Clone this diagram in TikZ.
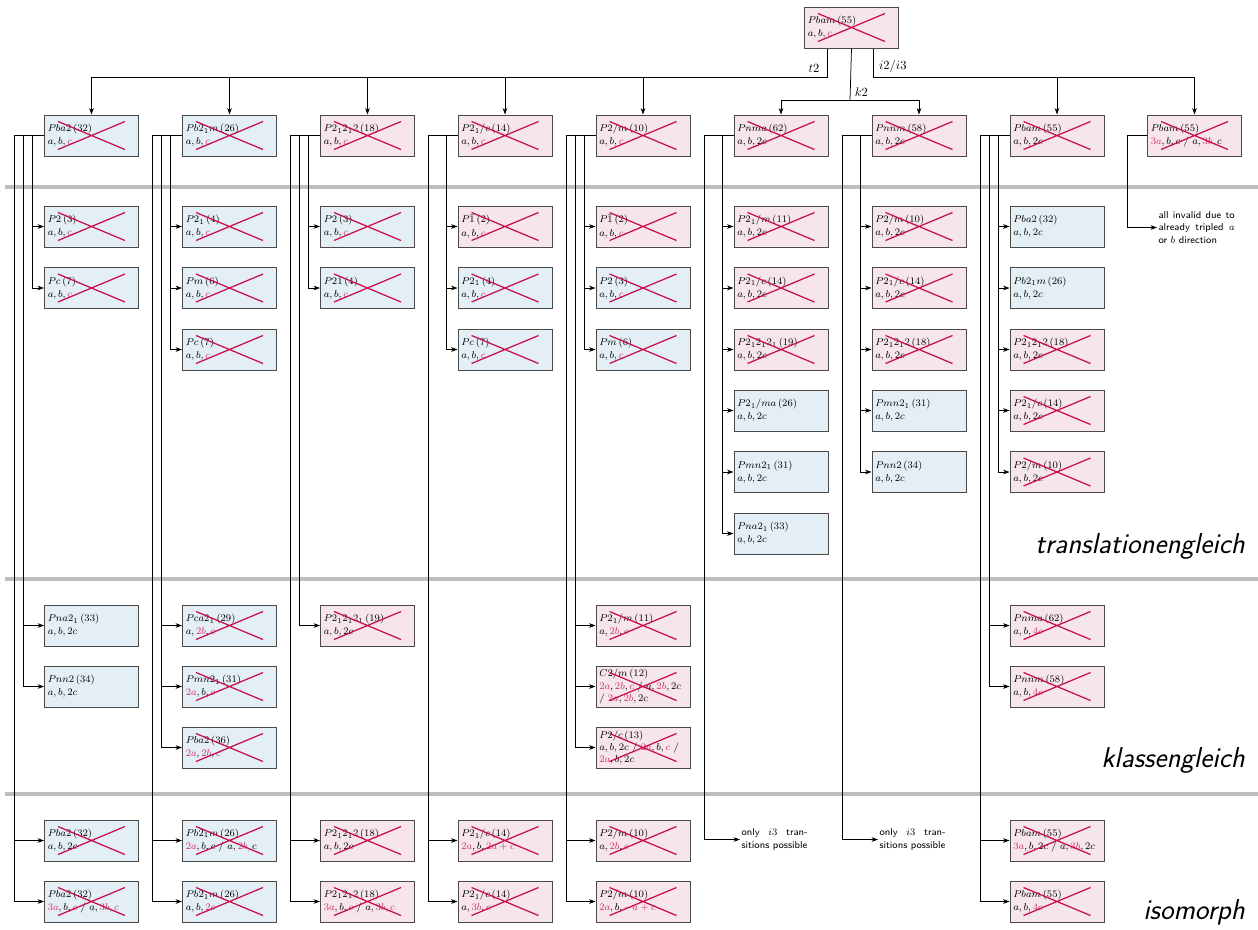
\documentclass[tikz,border=0pt]{standalone}
\usepackage{xcolor}
\definecolor{ncsfill}{HTML}{E3EEF5}
\definecolor{csfill}{HTML}{F6E5EC}
\definecolor{boxline}{HTML}{4A4A4A}
\definecolor{crossred}{HTML}{C80F4B}
\definecolor{badred}{HTML}{D2336B}
\definecolor{sepgray}{HTML}{BEBEBE}
\usepackage{tikz}
\usetikzlibrary{arrows.meta, calc}

\newcommand{\bad}[1]{\textcolor{badred}{#1}}
\newcommand{\sg}[3]{$#1\,(#2)$\\$#3$}
\newcommand{\crossbox}[1]{%
  \draw[crossline] ([shift={(-33.5,-14)}]#1.center) -- ([shift={(33.5,14)}]#1.center)
                   ([shift={(-33.5,14)}]#1.center) -- ([shift={(33.5,-14)}]#1.center);}

\begin{document}
\begin{tikzpicture}[x=0.8pt, y=-0.8pt,
  grp/.style={draw=boxline, line width=0.8pt, text width=70pt, minimum height=32.8pt,
    inner xsep=2.6pt, inner ysep=1.5pt, align=left, font=\fontsize{8}{10.5}\selectfont},
  ncent/.style={grp, fill=ncsfill},
  cent/.style={grp, fill=csfill},
  crossline/.style={crossred, line width=1pt},
  conn/.style={line width=0.6pt},
  arr/.style={conn, -{Stealth[length=5pt, width=3.6pt, inset=1.3pt]}},
  note/.style={font=\sffamily\fontsize{8}{10}\selectfont, inner sep=1pt, align=justify},
  tier/.style={font=\sffamily\slshape\fontsize{23}{26}\selectfont, inner sep=0pt, anchor=base east},
  divider/.style={sepgray, line width=3.2pt}]
  \useasboundingbox (0,0) rectangle (1258,929);

  % separators between the kinds of subgroups
  \draw[divider] (5,187) -- (1258,187);
  \draw[divider] (5,579) -- (1258,579);
  \draw[divider] (5,794) -- (1258,794);

  % start group
  \node[cent] (top) at (851.5,27.5) {\sg{Pbam}{55}{a, b, \bad{c}}};

  % maximal subgroups
  \node[ncent] (h1) at (91.5,135.5) {\sg{Pba2}{32}{a, b, \bad{c}}};
  \node[ncent] (h2) at (229.5,135.5) {\sg{Pb2_1m}{26}{a, b, \bad{c}}};
  \node[cent] (h3) at (367.5,135.5) {\sg{P2_12_12}{18}{a, b, \bad{c}}};
  \node[cent] (h4) at (505,135.5) {\sg{P2_1/c}{14}{a, b, \bad{c}}};
  \node[cent] (h5) at (643,135.5) {\sg{P2/m}{10}{a, b, \bad{c}}};
  \node[cent] (h6) at (781,135.5) {\sg{Pnma}{62}{a, b, 2c}};
  \node[cent] (h7) at (919,135.5) {\sg{Pnnm}{58}{a, b, 2c}};
  \node[cent] (h8) at (1057,135.5) {\sg{Pbam}{55}{a, b, 2c}};
  \node[cent] (h9) at (1194.5,135.5) {\sg{Pbam}{55}{\bad{3a}, b, c$ / $a, \bad{3b}, c}};

  \coordinate (t2s) at ($(top.south west)!0.25!(top.south east)$);
  \coordinate (i3s) at ($(top.south west)!0.73!(top.south east)$);
  \path (t2s) ++(0,29) coordinate (t2b);
  \path (i3s) ++(0,29) coordinate (i3b);
  \path (h6.north) ++(0,-14) coordinate (k2l);
  \coordinate (k2b) at ($(k2l)!0.5!(k2l -| h7.north)$);

  \draw[conn] (t2s) -- (t2b) node[anchor=south east, xshift=-3pt] (lt2) {$t2$};
  \foreach \n in {h1,h2,h3,h4,h5} \draw[arr] (t2b) -| (\n.north);
  \draw[conn] (top.south) -- (k2b) node[pos=0.84, anchor=west] (lk2) {$k2$};
  \draw[arr] (k2b) -| (h6.north);
  \draw[arr] (k2b) -| (h7.north);
  \draw[conn] (i3s) -- (i3b) node[anchor=south west, xshift=1pt] (li3) {$i2/i3$};
  \draw[arr] (i3b) -| (h8.north);
  \draw[arr] (i3b) -| (h9.north);

  % translationengleich
  \node[ncent] (t11) at (91.5,226.5) {\sg{P2}{3}{a, b, \bad{c}}};
  \node[ncent] (t12) at (91.5,288) {\sg{Pc}{7}{a, b, \bad{c}}};
  \node[ncent] (t21) at (229.5,226.5) {\sg{P2_1}{4}{a, b, \bad{c}}};
  \node[ncent] (t22) at (229.5,288) {\sg{Pm}{6}{a, b, \bad{c}}};
  \node[ncent] (t23) at (229.5,349.5) {\sg{Pc}{7}{a, b, \bad{c}}};
  \node[ncent] (t31) at (367.5,226.5) {\sg{P2}{3}{a, b, \bad{c}}};
  \node[ncent] (t32) at (367.5,288) {\sg{P21}{4}{a, b, \bad{c}}};
  \node[cent] (t41) at (505,226.5) {\sg{P\bar{1}}{2}{a, b, \bad{c}}};
  \node[ncent] (t42) at (505,288) {\sg{P2_1}{4}{a, b, \bad{c}}};
  \node[ncent] (t43) at (505,349.5) {\sg{Pc}{7}{a, b, \bad{c}}};
  \node[cent] (t51) at (643,226.5) {\sg{P\bar{1}}{2}{a, b, \bad{c}}};
  \node[ncent] (t52) at (643,288) {\sg{P2}{3}{a, b, \bad{c}}};
  \node[ncent] (t53) at (643,349.5) {\sg{Pm}{6}{a, b, \bad{c}}};
  \node[cent] (t61) at (781,226.5) {\sg{P2_1/m}{11}{a, b, 2c}};
  \node[cent] (t62) at (781,288) {\sg{P2_1/c}{14}{a, b, 2c}};
  \node[cent] (t63) at (781,349.5) {\sg{P2_12_12_1}{19}{a, b, 2c}};
  \node[ncent] (t64) at (781,410.5) {\sg{P2_1/ma}{26}{a, b, 2c}};
  \node[ncent] (t65) at (781,472) {\sg{Pmn2_1}{31}{a, b, 2c}};
  \node[ncent] (t66) at (781,533.5) {\sg{Pna2_1}{33}{a, b, 2c}};
  \node[cent] (t71) at (919,226.5) {\sg{P2/m}{10}{a, b, 2c}};
  \node[cent] (t72) at (919,288) {\sg{P2_1/c}{14}{a, b, 2c}};
  \node[cent] (t73) at (919,349.5) {\sg{P2_12_12}{18}{a, b, 2c}};
  \node[ncent] (t74) at (919,410.5) {\sg{Pmn2_1}{31}{a, b, 2c}};
  \node[ncent] (t75) at (919,472) {\sg{Pnn2}{34}{a, b, 2c}};
  \node[ncent] (t81) at (1057,226.5) {\sg{Pba2}{32}{a, b, 2c}};
  \node[ncent] (t82) at (1057,288) {\sg{Pb2_1m}{26}{a, b, 2c}};
  \node[cent] (t83) at (1057,349.5) {\sg{P2_12_12}{18}{a, b, 2c}};
  \node[cent] (t84) at (1057,410.5) {\sg{P2_1/c}{14}{a, b, 2c}};
  \node[cent] (t85) at (1057,472) {\sg{P2/m}{10}{a, b, 2c}};
  \node[note, anchor=west, text width=61pt] (inv) at (1157,227.5)
    {all invalid due to\linebreak already tripled $a$\linebreak or $b$ direction};

  % klassengleich
  \node[ncent] (k11) at (91.5,625.5) {\sg{Pna2_1}{33}{a, b, 2c}};
  \node[ncent] (k12) at (91.5,686.5) {\sg{Pnn2}{34}{a, b, 2c}};
  \node[ncent] (k21) at (229.5,625.5) {\sg{Pca2_1}{29}{a, \bad{2b}, \bad{c}}};
  \node[ncent] (k22) at (229.5,686.5) {\sg{Pmn2_1}{31}{\bad{2a}, b, \bad{c}}};
  \node[ncent] (k23) at (229.5,747.5) {\sg{Pba2}{36}{\bad{2a}, \bad{2b}, \bad{c}}};
  \node[cent] (k31) at (367.5,625.5) {\sg{P2_12_12_1}{19}{a, b, 2c}};
  \node[cent] (k51) at (643,625.5) {\sg{P2_1/m}{11}{a, \bad{2b}, \bad{c}}};
  \node[cent, font=\fontsize{8}{9.8}\selectfont] (k52) at (643,686.5)
    {$C2/m\,(12)$\\$\bad{2a}, \bad{2b}, \bad{c}$ / $a, \bad{2b}, 2c$\\/ $\bad{2a}, \bad{2b}, 2c$};
  \node[cent, font=\fontsize{8}{9.8}\selectfont] (k53) at (643,747.5)
    {$P2/c\,(13)$\\$a, b, 2c$ / $\bad{2a}, b, \bad{c}$ /\\$\bad{2a}, b, 2c$};
  \node[cent] (k81) at (1057,625.5) {\sg{Pnma}{62}{a, b, \bad{4c}}};
  \node[cent] (k82) at (1057,686.5) {\sg{Pnnm}{58}{a, b, \bad{4c}}};

  % isomorph
  \node[ncent] (i11) at (91.5,840.5) {\sg{Pba2}{32}{a, b, 2c}};
  \node[ncent] (i12) at (91.5,901.5) {\sg{Pba2}{32}{\bad{3a}, b, \bad{c}$ / $a, \bad{3b}, \bad{c}}};
  \node[ncent] (i21) at (229.5,840.5) {\sg{Pb2_1m}{26}{\bad{2a}, b, c$ / $a, \bad{2b}, c}};
  \node[ncent] (i22) at (229.5,901.5) {\sg{Pb2_1m}{26}{a, b, \bad{2c}}};
  \node[cent] (i31) at (367.5,840.5) {\sg{P2_12_12}{18}{a, b, 2c}};
  \node[cent] (i32) at (367.5,901.5) {\sg{P2_12_12}{18}{\bad{3a}, b, \bad{c}$ / $a, \bad{3b}, \bad{c}}};
  \node[cent] (i41) at (505,840.5) {\sg{P2_1/c}{14}{\bad{2a}, b, \bad{2a + c}}};
  \node[cent] (i42) at (505,901.5) {\sg{P2_1/c}{14}{a, \bad{3b}, \bad{c}}};
  \node[cent] (i51) at (643,840.5) {\sg{P2/m}{10}{a, \bad{2b}, \bad{c}}};
  \node[cent] (i52) at (643,901.5) {\sg{P2/m}{10}{\bad{2a}, b, \bad{-a + c}}};
  \node[note, anchor=west, text width=53pt] (o6) at (740,839.5) {only $i3$ tran-\linebreak sitions possible};
  \node[note, anchor=west, text width=53pt] (o7) at (878,839.5) {only $i3$ tran-\linebreak sitions possible};
  \node[cent] (i81) at (1057,840.5) {\sg{Pbam}{55}{\bad{3a}, b, 2c$ / $a, \bad{3b}, 2c}};
  \node[cent] (i82) at (1057,901.5) {\sg{Pbam}{55}{a, b, \bad{4c}}};

  % branches from each maximal subgroup
  \foreach \src/\dst/\off in {
      h1/t11/11.5, h1/t12/11.5, h1/k11/20.5, h1/k12/20.5, h1/i11/29.5, h1/i12/29.5,
      h2/t21/11.5, h2/t22/11.5, h2/t23/11.5, h2/k21/20.5, h2/k22/20.5, h2/k23/20.5, h2/i21/29.5, h2/i22/29.5,
      h3/t31/11.5, h3/t32/11.5, h3/k31/20.5, h3/i31/29.5, h3/i32/29.5,
      h4/t41/11.5, h4/t42/11.5, h4/t43/11.5, h4/i41/29.5, h4/i42/29.5,
      h5/t51/11.5, h5/t52/11.5, h5/t53/11.5, h5/k51/20.5, h5/k52/20.5, h5/k53/20.5, h5/i51/29.5, h5/i52/29.5,
      h6/t61/11, h6/t62/11, h6/t63/11, h6/t64/11, h6/t65/11, h6/t66/11, h6/o6/29.5,
      h7/t71/11, h7/t72/11, h7/t73/11, h7/t74/11, h7/t75/11, h7/o7/29.5,
      h8/t81/11.5, h8/t82/11.5, h8/t83/11.5, h8/t84/11.5, h8/t85/11.5, h8/k81/20.5, h8/k82/20.5,
      h8/i81/29.5, h8/i82/29.5,
      h9/inv/20}
    \draw[arr] (\src.west) -- ++(-\off,0) |- (\dst.west);

  % crossed out (invalid) groups
  \foreach \n in {top, h1, h2, h3, h4, h5, h6, h7, h8, h9,
      t11, t12, t21, t22, t23, t31, t32, t41, t42, t43, t51, t52, t53,
      t61, t62, t63, t71, t72, t73, t83, t84, t85,
      k21, k22, k23, k31, k51, k52, k53, k81, k82,
      i11, i12, i21, i22, i31, i32, i41, i42, i51, i52, i81, i82}
    {\crossbox{\n}}

  \node[tier] (ltr) at (1245,553) {translationengleich};
  \node[tier] (lkl) at (1245,767) {klassengleich};
  \node[tier] (lis) at (1245,919) {isomorph};
\end{tikzpicture}
\end{document}
